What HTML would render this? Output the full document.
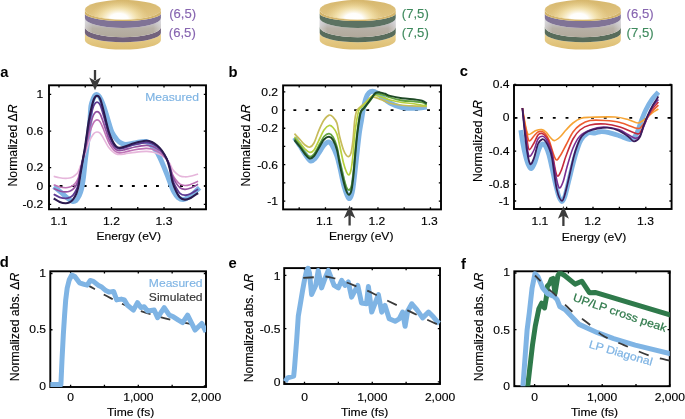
<!DOCTYPE html><html><head><meta charset="utf-8"><style>html,body{margin:0;padding:0;background:#fff;width:685px;height:419px;overflow:hidden}</style></head><body><svg width="685" height="419" viewBox="0 0 685 419" style="display:block;will-change:transform" font-family='"Liberation Sans", sans-serif'>
<rect width="685" height="419" fill="#fff"/>
<defs>
<clipPath id="ca"><rect x="49" y="85.3" width="157" height="124.00000000000001"/></clipPath>
<clipPath id="cb"><rect x="283.1" y="85.4" width="157.89999999999998" height="124.0"/></clipPath>
<clipPath id="cc"><rect x="514" y="85.1" width="157.60000000000002" height="123.9"/></clipPath>
<clipPath id="cd"><rect x="50.3" y="271.3" width="155.7" height="115.69999999999999"/></clipPath>
<clipPath id="ce"><rect x="284.2" y="268.1" width="155.8" height="115.89999999999998"/></clipPath>
<clipPath id="cf"><rect x="514.3" y="271.3" width="155.5" height="114.89999999999998"/></clipPath>
</defs>
<text transform="translate(0.30,76.50) scale(1.02,1)" font-size="14.5" text-anchor="start" fill="#000" stroke="#000" stroke-width="0.0" font-weight="bold" >a</text>
<text transform="translate(228.60,76.50) scale(1.02,1)" font-size="14.5" text-anchor="start" fill="#000" stroke="#000" stroke-width="0.0" font-weight="bold" >b</text>
<text transform="translate(459.80,75.80) scale(1.02,1)" font-size="14.5" text-anchor="start" fill="#000" stroke="#000" stroke-width="0.0" font-weight="bold" >c</text>
<text transform="translate(-0.20,267.00) scale(1.02,1)" font-size="14.5" text-anchor="start" fill="#000" stroke="#000" stroke-width="0.0" font-weight="bold" >d</text>
<text transform="translate(228.50,268.00) scale(1.02,1)" font-size="14.5" text-anchor="start" fill="#000" stroke="#000" stroke-width="0.0" font-weight="bold" >e</text>
<text transform="translate(461.10,268.60) scale(1.02,1)" font-size="14.5" text-anchor="start" fill="#000" stroke="#000" stroke-width="0.0" font-weight="bold" >f</text>
<path d="M59.00,209.3 v-2.2 M59.00,85.3 v2.2 M85.25,209.3 v-2.2 M85.25,85.3 v2.2 M111.50,209.3 v-2.2 M111.50,85.3 v2.2 M137.75,209.3 v-2.2 M137.75,85.3 v2.2 M164.00,209.3 v-2.2 M164.00,85.3 v2.2 M190.25,209.3 v-2.2 M190.25,85.3 v2.2 M49,204.32 h2.2 M206,204.32 h-2.2 M49,186.00 h2.2 M206,186.00 h-2.2 M49,167.68 h2.2 M206,167.68 h-2.2 M49,131.04 h2.2 M206,131.04 h-2.2 M49,94.40 h2.2 M206,94.40 h-2.2 " stroke="#000" stroke-width="1.3" fill="none"/>
<rect x="49" y="85.3" width="157" height="124.00000000000001" fill="none" stroke="#000" stroke-width="1.9"/>
<text transform="translate(43.30,98.20) scale(1.1,1)" font-size="11" text-anchor="end" fill="#000" stroke="#000" stroke-width="0.14" font-weight="normal" >1</text>
<text transform="translate(43.30,134.84) scale(1.1,1)" font-size="11" text-anchor="end" fill="#000" stroke="#000" stroke-width="0.14" font-weight="normal" >0.6</text>
<text transform="translate(43.30,171.48) scale(1.1,1)" font-size="11" text-anchor="end" fill="#000" stroke="#000" stroke-width="0.14" font-weight="normal" >0.2</text>
<text transform="translate(43.30,189.80) scale(1.1,1)" font-size="11" text-anchor="end" fill="#000" stroke="#000" stroke-width="0.14" font-weight="normal" >0</text>
<text transform="translate(43.30,208.12) scale(1.1,1)" font-size="11" text-anchor="end" fill="#000" stroke="#000" stroke-width="0.14" font-weight="normal" >-0.2</text>
<text transform="translate(59.00,224.70) scale(1.1,1)" font-size="11" text-anchor="middle" fill="#000" stroke="#000" stroke-width="0.14" font-weight="normal" >1.1</text>
<text transform="translate(111.50,224.70) scale(1.1,1)" font-size="11" text-anchor="middle" fill="#000" stroke="#000" stroke-width="0.14" font-weight="normal" >1.2</text>
<text transform="translate(164.00,224.70) scale(1.1,1)" font-size="11" text-anchor="middle" fill="#000" stroke="#000" stroke-width="0.14" font-weight="normal" >1.3</text>
<text transform="translate(128.70,240.20) scale(1.1,1)" font-size="11" text-anchor="middle" fill="#000" stroke="#000" stroke-width="0.14" font-weight="normal" >Energy (eV)</text>
<text transform="translate(16.70,145.45) rotate(-90) scale(1.0,1)" font-size="12.2" text-anchor="middle" fill="#000" stroke="#000" stroke-width="0.14" font-weight="normal" >Normalized Δ<tspan font-style="italic">R</tspan></text>
<path d="M299.20,209.4 v-2.2 M299.20,85.4 v2.2 M325.45,209.4 v-2.2 M325.45,85.4 v2.2 M351.70,209.4 v-2.2 M351.70,85.4 v2.2 M377.95,209.4 v-2.2 M377.95,85.4 v2.2 M404.20,209.4 v-2.2 M404.20,85.4 v2.2 M430.45,209.4 v-2.2 M430.45,85.4 v2.2 M283.1,91.84 h2.2 M441,91.84 h-2.2 M283.1,110.05 h2.2 M441,110.05 h-2.2 M283.1,128.26 h2.2 M441,128.26 h-2.2 M283.1,146.47 h2.2 M441,146.47 h-2.2 M283.1,164.68 h2.2 M441,164.68 h-2.2 M283.1,182.89 h2.2 M441,182.89 h-2.2 M283.1,201.10 h2.2 M441,201.10 h-2.2 " stroke="#000" stroke-width="1.3" fill="none"/>
<rect x="283.1" y="85.4" width="157.89999999999998" height="124.0" fill="none" stroke="#000" stroke-width="1.9"/>
<text transform="translate(278.00,96.04) scale(1.1,1)" font-size="11" text-anchor="end" fill="#000" stroke="#000" stroke-width="0.14" font-weight="normal" >0.2</text>
<text transform="translate(278.00,114.25) scale(1.1,1)" font-size="11" text-anchor="end" fill="#000" stroke="#000" stroke-width="0.14" font-weight="normal" >0</text>
<text transform="translate(278.00,132.46) scale(1.1,1)" font-size="11" text-anchor="end" fill="#000" stroke="#000" stroke-width="0.14" font-weight="normal" >-0.2</text>
<text transform="translate(278.00,168.88) scale(1.1,1)" font-size="11" text-anchor="end" fill="#000" stroke="#000" stroke-width="0.14" font-weight="normal" >-0.6</text>
<text transform="translate(278.00,205.30) scale(1.1,1)" font-size="11" text-anchor="end" fill="#000" stroke="#000" stroke-width="0.14" font-weight="normal" >-1</text>
<text transform="translate(324.45,225.10) scale(1.1,1)" font-size="11" text-anchor="middle" fill="#000" stroke="#000" stroke-width="0.14" font-weight="normal" >1.1</text>
<text transform="translate(376.95,225.10) scale(1.1,1)" font-size="11" text-anchor="middle" fill="#000" stroke="#000" stroke-width="0.14" font-weight="normal" >1.2</text>
<text transform="translate(429.45,225.10) scale(1.1,1)" font-size="11" text-anchor="middle" fill="#000" stroke="#000" stroke-width="0.14" font-weight="normal" >1.3</text>
<text transform="translate(361.20,240.40) scale(1.1,1)" font-size="11" text-anchor="middle" fill="#000" stroke="#000" stroke-width="0.14" font-weight="normal" >Energy (eV)</text>
<text transform="translate(249.90,145.45) rotate(-90) scale(1.0,1)" font-size="12.2" text-anchor="middle" fill="#000" stroke="#000" stroke-width="0.14" font-weight="normal" >Normalized Δ<tspan font-style="italic">R</tspan></text>
<path d="M513.80,209 v-2.2 M513.80,85.1 v2.2 M540.20,209 v-2.2 M540.20,85.1 v2.2 M566.60,209 v-2.2 M566.60,85.1 v2.2 M593.00,209 v-2.2 M593.00,85.1 v2.2 M619.40,209 v-2.2 M619.40,85.1 v2.2 M645.80,209 v-2.2 M645.80,85.1 v2.2 M514,84.52 h2.2 M671.6,84.52 h-2.2 M514,117.80 h2.2 M671.6,117.80 h-2.2 M514,151.08 h2.2 M671.6,151.08 h-2.2 M514,184.36 h2.2 M671.6,184.36 h-2.2 M514,201.00 h2.2 M671.6,201.00 h-2.2 " stroke="#000" stroke-width="1.3" fill="none"/>
<rect x="514" y="85.1" width="157.60000000000002" height="123.9" fill="none" stroke="#000" stroke-width="1.9"/>
<text transform="translate(509.50,88.12) scale(1.1,1)" font-size="11" text-anchor="end" fill="#000" stroke="#000" stroke-width="0.14" font-weight="normal" >0.4</text>
<text transform="translate(509.50,121.40) scale(1.1,1)" font-size="11" text-anchor="end" fill="#000" stroke="#000" stroke-width="0.14" font-weight="normal" >0</text>
<text transform="translate(509.50,154.68) scale(1.1,1)" font-size="11" text-anchor="end" fill="#000" stroke="#000" stroke-width="0.14" font-weight="normal" >-0.4</text>
<text transform="translate(509.50,187.96) scale(1.1,1)" font-size="11" text-anchor="end" fill="#000" stroke="#000" stroke-width="0.14" font-weight="normal" >-0.8</text>
<text transform="translate(509.50,204.60) scale(1.1,1)" font-size="11" text-anchor="end" fill="#000" stroke="#000" stroke-width="0.14" font-weight="normal" >-1</text>
<text transform="translate(539.90,225.10) scale(1.1,1)" font-size="11" text-anchor="middle" fill="#000" stroke="#000" stroke-width="0.14" font-weight="normal" >1.1</text>
<text transform="translate(592.70,225.10) scale(1.1,1)" font-size="11" text-anchor="middle" fill="#000" stroke="#000" stroke-width="0.14" font-weight="normal" >1.2</text>
<text transform="translate(645.50,225.10) scale(1.1,1)" font-size="11" text-anchor="middle" fill="#000" stroke="#000" stroke-width="0.14" font-weight="normal" >1.3</text>
<text transform="translate(594.00,240.60) scale(1.1,1)" font-size="11" text-anchor="middle" fill="#000" stroke="#000" stroke-width="0.14" font-weight="normal" >Energy (eV)</text>
<text transform="translate(482.00,141.10) rotate(-90) scale(1.0,1)" font-size="12.2" text-anchor="middle" fill="#000" stroke="#000" stroke-width="0.14" font-weight="normal" >Normalized Δ<tspan font-style="italic">R</tspan></text>
<path d="M70.60,387 v-2.2 M70.60,271.3 v2.2 M104.45,387 v-2.2 M104.45,271.3 v2.2 M138.30,387 v-2.2 M138.30,271.3 v2.2 M172.15,387 v-2.2 M172.15,271.3 v2.2 M206.00,387 v-2.2 M206.00,271.3 v2.2 M50.3,386.00 h2.2 M206,386.00 h-2.2 M50.3,329.75 h2.2 M206,329.75 h-2.2 M50.3,273.50 h2.2 M206,273.50 h-2.2 " stroke="#000" stroke-width="1.3" fill="none"/>
<rect x="50.3" y="271.3" width="155.7" height="115.69999999999999" fill="none" stroke="#000" stroke-width="1.9"/>
<text transform="translate(46.00,276.50) scale(1.1,1)" font-size="11" text-anchor="end" fill="#000" stroke="#000" stroke-width="0.14" font-weight="normal" >1</text>
<text transform="translate(46.00,333.35) scale(1.1,1)" font-size="11" text-anchor="end" fill="#000" stroke="#000" stroke-width="0.14" font-weight="normal" >0.5</text>
<text transform="translate(46.00,389.60) scale(1.1,1)" font-size="11" text-anchor="end" fill="#000" stroke="#000" stroke-width="0.14" font-weight="normal" >0</text>
<text transform="translate(70.60,400.80) scale(1.1,1)" font-size="11" text-anchor="middle" fill="#000" stroke="#000" stroke-width="0.14" font-weight="normal" >0</text>
<text transform="translate(138.30,400.80) scale(1.1,1)" font-size="11" text-anchor="middle" fill="#000" stroke="#000" stroke-width="0.14" font-weight="normal" >1,000</text>
<text transform="translate(206.00,400.80) scale(1.1,1)" font-size="11" text-anchor="middle" fill="#000" stroke="#000" stroke-width="0.14" font-weight="normal" >2,000</text>
<text transform="translate(130.65,416.00) scale(1.1,1)" font-size="11" text-anchor="middle" fill="#000" stroke="#000" stroke-width="0.14" font-weight="normal" >Time (fs)</text>
<text transform="translate(19.10,326.95) rotate(-90) scale(1.0,1)" font-size="12.2" text-anchor="middle" fill="#000" stroke="#000" stroke-width="0.14" font-weight="normal" >Normalized abs. Δ<tspan font-style="italic">R</tspan></text>
<path d="M304.50,384 v-2.2 M304.50,268.1 v2.2 M338.38,384 v-2.2 M338.38,268.1 v2.2 M372.25,384 v-2.2 M372.25,268.1 v2.2 M406.12,384 v-2.2 M406.12,268.1 v2.2 M440.00,384 v-2.2 M440.00,268.1 v2.2 M284.2,381.80 h2.2 M440,381.80 h-2.2 M284.2,328.60 h2.2 M440,328.60 h-2.2 M284.2,275.40 h2.2 M440,275.40 h-2.2 " stroke="#000" stroke-width="1.3" fill="none"/>
<rect x="284.2" y="268.1" width="155.8" height="115.89999999999998" fill="none" stroke="#000" stroke-width="1.9"/>
<text transform="translate(280.50,279.60) scale(1.1,1)" font-size="11" text-anchor="end" fill="#000" stroke="#000" stroke-width="0.14" font-weight="normal" >1</text>
<text transform="translate(280.50,332.80) scale(1.1,1)" font-size="11" text-anchor="end" fill="#000" stroke="#000" stroke-width="0.14" font-weight="normal" >-0.5</text>
<text transform="translate(280.50,386.00) scale(1.1,1)" font-size="11" text-anchor="end" fill="#000" stroke="#000" stroke-width="0.14" font-weight="normal" >0</text>
<text transform="translate(304.50,400.80) scale(1.1,1)" font-size="11" text-anchor="middle" fill="#000" stroke="#000" stroke-width="0.14" font-weight="normal" >0</text>
<text transform="translate(372.25,400.80) scale(1.1,1)" font-size="11" text-anchor="middle" fill="#000" stroke="#000" stroke-width="0.14" font-weight="normal" >1,000</text>
<text transform="translate(440.00,400.80) scale(1.1,1)" font-size="11" text-anchor="middle" fill="#000" stroke="#000" stroke-width="0.14" font-weight="normal" >2,000</text>
<text transform="translate(364.60,416.00) scale(1.1,1)" font-size="11" text-anchor="middle" fill="#000" stroke="#000" stroke-width="0.14" font-weight="normal" >Time (fs)</text>
<text transform="translate(253.10,328.00) rotate(-90) scale(1.0,1)" font-size="12.2" text-anchor="middle" fill="#000" stroke="#000" stroke-width="0.14" font-weight="normal" >Normalized abs. Δ<tspan font-style="italic">R</tspan></text>
<path d="M534.60,386.2 v-2.2 M534.60,271.3 v2.2 M568.40,386.2 v-2.2 M568.40,271.3 v2.2 M602.20,386.2 v-2.2 M602.20,271.3 v2.2 M636.00,386.2 v-2.2 M636.00,271.3 v2.2 M669.80,386.2 v-2.2 M669.80,271.3 v2.2 M514.3,386.20 h2.2 M669.8,386.20 h-2.2 M514.3,329.60 h2.2 M669.8,329.60 h-2.2 M514.3,273.00 h2.2 M669.8,273.00 h-2.2 " stroke="#000" stroke-width="1.3" fill="none"/>
<rect x="514.3" y="271.3" width="155.5" height="114.89999999999998" fill="none" stroke="#000" stroke-width="1.9"/>
<text transform="translate(510.00,276.00) scale(1.1,1)" font-size="11" text-anchor="end" fill="#000" stroke="#000" stroke-width="0.14" font-weight="normal" >1</text>
<text transform="translate(510.00,333.80) scale(1.1,1)" font-size="11" text-anchor="end" fill="#000" stroke="#000" stroke-width="0.14" font-weight="normal" >0.5</text>
<text transform="translate(510.00,390.40) scale(1.1,1)" font-size="11" text-anchor="end" fill="#000" stroke="#000" stroke-width="0.14" font-weight="normal" >0</text>
<text transform="translate(534.60,400.80) scale(1.1,1)" font-size="11" text-anchor="middle" fill="#000" stroke="#000" stroke-width="0.14" font-weight="normal" >0</text>
<text transform="translate(602.20,400.80) scale(1.1,1)" font-size="11" text-anchor="middle" fill="#000" stroke="#000" stroke-width="0.14" font-weight="normal" >1,000</text>
<text transform="translate(669.80,400.80) scale(1.1,1)" font-size="11" text-anchor="middle" fill="#000" stroke="#000" stroke-width="0.14" font-weight="normal" >2,000</text>
<text transform="translate(594.55,416.00) scale(1.1,1)" font-size="11" text-anchor="middle" fill="#000" stroke="#000" stroke-width="0.14" font-weight="normal" >Time (fs)</text>
<text transform="translate(483.20,326.95) rotate(-90) scale(1.0,1)" font-size="12.2" text-anchor="middle" fill="#000" stroke="#000" stroke-width="0.14" font-weight="normal" >Normalized abs. Δ<tspan font-style="italic">R</tspan></text>
<defs><radialGradient id="hl1" cx="118.9" cy="19" r="30" gradientUnits="userSpaceOnUse" gradientTransform="translate(118.9,19) scale(1,0.62) translate(-118.9,-19)"><stop offset="0" stop-color="#ffffff" stop-opacity="1"/><stop offset="0.3" stop-color="#ffffff" stop-opacity="0.97"/><stop offset="0.62" stop-color="#fff4c8" stop-opacity="0.55"/><stop offset="1" stop-color="#f0dca0" stop-opacity="0"/></radialGradient><linearGradient id="fb1" x1="0" y1="0" x2="0" y2="20" gradientUnits="userSpaceOnUse"><stop offset="0" stop-color="#d7b86e"/><stop offset="1" stop-color="#e3c887"/></linearGradient><linearGradient id="gy1" x1="0" y1="18" x2="0" y2="37" gradientUnits="userSpaceOnUse"><stop offset="0" stop-color="#cdccd2"/><stop offset="0.3" stop-color="#c2bfc0"/><stop offset="0.55" stop-color="#b7b0a6"/><stop offset="1" stop-color="#b1a99b"/></linearGradient><linearGradient id="gx1" x1="84.9" y1="0" x2="160.9" y2="0" gradientUnits="userSpaceOnUse"><stop offset="0" stop-color="#e8e8ee" stop-opacity="0.5"/><stop offset="0.1" stop-color="#e8e8ee" stop-opacity="0.0"/><stop offset="0.9" stop-color="#e8e8ee" stop-opacity="0.0"/><stop offset="1" stop-color="#e8e8ee" stop-opacity="0.5"/></linearGradient><linearGradient id="gb1" x1="0" y1="34" x2="0" y2="50" gradientUnits="userSpaceOnUse"><stop offset="0" stop-color="#e9d08f"/><stop offset="1" stop-color="#dcbc70"/></linearGradient></defs>
<path d="M84.90,33.00 A38,9.2 0 0 0 160.90,33.00 L160.90,40.20 A38,9.4 0 0 1 84.90,40.20 Z" fill="url(#gb1)"/>
<path d="M84.90,27.00 A38,10.2 0 0 0 160.90,27.00 L160.90,33.00 A38,9.2 0 0 1 84.90,33.00 Z" fill="#72627c"/>
<path d="M84.90,18.00 A38,9.9 0 0 0 160.90,18.00 L160.90,27.00 A38,10.2 0 0 1 84.90,27.00 Z" fill="url(#gy1)"/>
<path d="M84.90,18.00 A38,9.9 0 0 0 160.90,18.00 L160.90,27.00 A38,10.2 0 0 1 84.90,27.00 Z" fill="url(#gx1)"/>
<path d="M84.90,13.50 A38,7.5 0 0 0 160.90,13.50 L160.90,18.00 A38,9.9 0 0 1 84.90,18.00 Z" fill="#807396"/>
<path d="M84.90,9.80 A38,9.9 0 0 0 160.90,9.80 L160.90,13.50 A38,7.5 0 0 1 84.90,13.50 Z" fill="#d3b46a"/>
<ellipse cx="122.9" cy="9.8" rx="38" ry="9.9" fill="url(#fb1)"/>
<ellipse cx="122.9" cy="9.8" rx="37.7" ry="9.6" fill="url(#hl1)"/>
<defs><radialGradient id="hl2" cx="353.7" cy="19" r="30" gradientUnits="userSpaceOnUse" gradientTransform="translate(353.7,19) scale(1,0.62) translate(-353.7,-19)"><stop offset="0" stop-color="#ffffff" stop-opacity="1"/><stop offset="0.3" stop-color="#ffffff" stop-opacity="0.97"/><stop offset="0.62" stop-color="#fff4c8" stop-opacity="0.55"/><stop offset="1" stop-color="#f0dca0" stop-opacity="0"/></radialGradient><linearGradient id="fb2" x1="0" y1="0" x2="0" y2="20" gradientUnits="userSpaceOnUse"><stop offset="0" stop-color="#d7b86e"/><stop offset="1" stop-color="#e3c887"/></linearGradient><linearGradient id="gy2" x1="0" y1="18" x2="0" y2="37" gradientUnits="userSpaceOnUse"><stop offset="0" stop-color="#cdccd2"/><stop offset="0.3" stop-color="#c2bfc0"/><stop offset="0.55" stop-color="#b7b0a6"/><stop offset="1" stop-color="#b1a99b"/></linearGradient><linearGradient id="gx2" x1="319.7" y1="0" x2="395.7" y2="0" gradientUnits="userSpaceOnUse"><stop offset="0" stop-color="#e8e8ee" stop-opacity="0.5"/><stop offset="0.1" stop-color="#e8e8ee" stop-opacity="0.0"/><stop offset="0.9" stop-color="#e8e8ee" stop-opacity="0.0"/><stop offset="1" stop-color="#e8e8ee" stop-opacity="0.5"/></linearGradient><linearGradient id="gb2" x1="0" y1="34" x2="0" y2="50" gradientUnits="userSpaceOnUse"><stop offset="0" stop-color="#e9d08f"/><stop offset="1" stop-color="#dcbc70"/></linearGradient></defs>
<path d="M319.70,33.00 A38,9.2 0 0 0 395.70,33.00 L395.70,40.20 A38,9.4 0 0 1 319.70,40.20 Z" fill="url(#gb2)"/>
<path d="M319.70,27.00 A38,10.2 0 0 0 395.70,27.00 L395.70,33.00 A38,9.2 0 0 1 319.70,33.00 Z" fill="#586c5b"/>
<path d="M319.70,18.00 A38,9.9 0 0 0 395.70,18.00 L395.70,27.00 A38,10.2 0 0 1 319.70,27.00 Z" fill="url(#gy2)"/>
<path d="M319.70,18.00 A38,9.9 0 0 0 395.70,18.00 L395.70,27.00 A38,10.2 0 0 1 319.70,27.00 Z" fill="url(#gx2)"/>
<path d="M319.70,13.50 A38,7.5 0 0 0 395.70,13.50 L395.70,18.00 A38,9.9 0 0 1 319.70,18.00 Z" fill="#5c7262"/>
<path d="M319.70,9.80 A38,9.9 0 0 0 395.70,9.80 L395.70,13.50 A38,7.5 0 0 1 319.70,13.50 Z" fill="#d3b46a"/>
<ellipse cx="357.7" cy="9.8" rx="38" ry="9.9" fill="url(#fb2)"/>
<ellipse cx="357.7" cy="9.8" rx="37.7" ry="9.6" fill="url(#hl2)"/>
<defs><radialGradient id="hl3" cx="578.8" cy="19" r="30" gradientUnits="userSpaceOnUse" gradientTransform="translate(578.8,19) scale(1,0.62) translate(-578.8,-19)"><stop offset="0" stop-color="#ffffff" stop-opacity="1"/><stop offset="0.3" stop-color="#ffffff" stop-opacity="0.97"/><stop offset="0.62" stop-color="#fff4c8" stop-opacity="0.55"/><stop offset="1" stop-color="#f0dca0" stop-opacity="0"/></radialGradient><linearGradient id="fb3" x1="0" y1="0" x2="0" y2="20" gradientUnits="userSpaceOnUse"><stop offset="0" stop-color="#d7b86e"/><stop offset="1" stop-color="#e3c887"/></linearGradient><linearGradient id="gy3" x1="0" y1="18" x2="0" y2="37" gradientUnits="userSpaceOnUse"><stop offset="0" stop-color="#cdccd2"/><stop offset="0.3" stop-color="#c2bfc0"/><stop offset="0.55" stop-color="#b7b0a6"/><stop offset="1" stop-color="#b1a99b"/></linearGradient><linearGradient id="gx3" x1="544.8" y1="0" x2="620.8" y2="0" gradientUnits="userSpaceOnUse"><stop offset="0" stop-color="#e8e8ee" stop-opacity="0.5"/><stop offset="0.1" stop-color="#e8e8ee" stop-opacity="0.0"/><stop offset="0.9" stop-color="#e8e8ee" stop-opacity="0.0"/><stop offset="1" stop-color="#e8e8ee" stop-opacity="0.5"/></linearGradient><linearGradient id="gb3" x1="0" y1="34" x2="0" y2="50" gradientUnits="userSpaceOnUse"><stop offset="0" stop-color="#e9d08f"/><stop offset="1" stop-color="#dcbc70"/></linearGradient></defs>
<path d="M544.80,33.00 A38,9.2 0 0 0 620.80,33.00 L620.80,40.20 A38,9.4 0 0 1 544.80,40.20 Z" fill="url(#gb3)"/>
<path d="M544.80,27.00 A38,10.2 0 0 0 620.80,27.00 L620.80,33.00 A38,9.2 0 0 1 544.80,33.00 Z" fill="#586c5b"/>
<path d="M544.80,18.00 A38,9.9 0 0 0 620.80,18.00 L620.80,27.00 A38,10.2 0 0 1 544.80,27.00 Z" fill="url(#gy3)"/>
<path d="M544.80,18.00 A38,9.9 0 0 0 620.80,18.00 L620.80,27.00 A38,10.2 0 0 1 544.80,27.00 Z" fill="url(#gx3)"/>
<path d="M544.80,13.50 A38,7.5 0 0 0 620.80,13.50 L620.80,18.00 A38,9.9 0 0 1 544.80,18.00 Z" fill="#807396"/>
<path d="M544.80,9.80 A38,9.9 0 0 0 620.80,9.80 L620.80,13.50 A38,7.5 0 0 1 544.80,13.50 Z" fill="#d3b46a"/>
<ellipse cx="582.8" cy="9.8" rx="38" ry="9.9" fill="url(#fb3)"/>
<ellipse cx="582.8" cy="9.8" rx="37.7" ry="9.6" fill="url(#hl3)"/>
<text transform="translate(169.20,17.60) scale(1.05,1)" font-size="12.5" text-anchor="start" fill="#8765b0" stroke="#8765b0" stroke-width="0.14" font-weight="normal" >(6,5)</text>
<text transform="translate(168.80,37.30) scale(1.05,1)" font-size="12.5" text-anchor="start" fill="#8765b0" stroke="#8765b0" stroke-width="0.14" font-weight="normal" >(6,5)</text>
<text transform="translate(401.80,17.60) scale(1.05,1)" font-size="12.5" text-anchor="start" fill="#3f8a5e" stroke="#3f8a5e" stroke-width="0.14" font-weight="normal" >(7,5)</text>
<text transform="translate(401.80,37.30) scale(1.05,1)" font-size="12.5" text-anchor="start" fill="#3f8a5e" stroke="#3f8a5e" stroke-width="0.14" font-weight="normal" >(7,5)</text>
<text transform="translate(626.60,17.60) scale(1.05,1)" font-size="12.5" text-anchor="start" fill="#8765b0" stroke="#8765b0" stroke-width="0.14" font-weight="normal" >(6,5)</text>
<text transform="translate(626.60,37.30) scale(1.05,1)" font-size="12.5" text-anchor="start" fill="#3f8a5e" stroke="#3f8a5e" stroke-width="0.14" font-weight="normal" >(7,5)</text>
<g clip-path="url(#ca)" fill="none" stroke-linejoin="round" stroke-linecap="butt">
<path d="M49,186.00 H206" stroke="#000" stroke-width="1.8" stroke-dasharray="2.9 9.15" stroke-dashoffset="1.45"/>
<path d="M54.00,186.50 C55.23,187.53 59.05,190.70 61.40,192.70 C63.75,194.70 66.30,197.07 68.10,198.50 C69.90,199.93 70.88,200.97 72.20,201.30 C73.52,201.63 74.87,201.38 76.00,200.50 C77.13,199.62 78.10,197.83 79.00,196.00 C79.90,194.17 80.65,192.70 81.40,189.50 C82.15,186.30 82.88,181.43 83.50,176.80 C84.12,172.17 84.55,166.43 85.10,161.70 C85.65,156.97 86.28,152.52 86.80,148.40 C87.32,144.28 87.68,141.57 88.20,137.00 C88.72,132.43 89.43,126.17 89.90,121.00 C90.37,115.83 90.40,109.83 91.00,106.00 C91.60,102.17 92.72,99.87 93.50,98.00 C94.28,96.13 94.87,95.22 95.70,94.80 C96.53,94.38 97.62,94.72 98.50,95.50 C99.38,96.28 100.08,97.58 101.00,99.50 C101.92,101.42 102.83,103.58 104.00,107.00 C105.17,110.42 106.67,115.77 108.00,120.00 C109.33,124.23 110.47,129.07 112.00,132.40 C113.53,135.73 115.70,138.23 117.20,140.00 C118.70,141.77 119.55,142.25 121.00,143.00 C122.45,143.75 123.57,144.50 125.90,144.50 C128.23,144.50 131.65,143.50 135.00,143.00 C138.35,142.50 143.00,140.83 146.00,141.50 C149.00,142.17 151.03,145.00 153.00,147.00 C154.97,149.00 156.12,150.52 157.80,153.50 C159.48,156.48 161.42,161.02 163.10,164.90 C164.78,168.78 166.60,173.45 167.90,176.80 C169.20,180.15 169.88,182.47 170.90,185.00 C171.92,187.53 172.82,189.92 174.00,192.00 C175.18,194.08 176.45,196.25 178.00,197.50 C179.55,198.75 181.30,199.67 183.30,199.50 C185.30,199.33 187.88,197.92 190.00,196.50 C192.12,195.08 194.40,192.45 196.00,191.00 C197.60,189.55 199.00,188.33 199.60,187.80" stroke="#7fb4e4" stroke-width="5.0"/>
<path d="M53.70,176.34 C54.70,176.59 57.72,177.47 59.70,177.81 C61.68,178.15 63.93,178.35 65.60,178.37 C67.27,178.39 68.45,178.21 69.70,177.94 C70.95,177.67 71.98,177.36 73.10,176.73 C74.22,176.10 75.52,175.09 76.40,174.18 C77.28,173.27 77.70,172.73 78.40,171.29 C79.10,169.84 79.87,167.43 80.60,165.50 C81.33,163.57 82.10,161.51 82.80,159.71 C83.50,157.91 84.17,156.43 84.80,154.70 C85.43,152.97 85.95,151.28 86.60,149.34 C87.25,147.40 87.92,145.06 88.70,143.08 C89.48,141.10 90.42,139.08 91.30,137.46 C92.18,135.84 93.07,134.28 94.00,133.36 C94.93,132.44 95.90,131.97 96.90,131.93 C97.90,131.90 98.97,132.18 100.00,133.14 C101.03,134.10 102.10,136.06 103.10,137.68 C104.10,139.30 105.02,141.18 106.00,142.86 C106.98,144.55 107.92,146.35 109.00,147.79 C110.08,149.23 111.38,150.52 112.50,151.50 C113.62,152.48 114.55,153.16 115.70,153.66 C116.85,154.16 117.85,154.45 119.40,154.48 C120.95,154.52 122.40,154.23 125.00,153.88 C127.60,153.52 131.50,152.78 135.00,152.37 C138.50,151.96 143.17,151.49 146.00,151.42 C148.83,151.34 150.13,151.60 152.00,151.93 C153.87,152.27 155.55,152.83 157.20,153.45 C158.85,154.06 160.32,154.64 161.90,155.61 C163.48,156.57 165.40,157.95 166.70,159.23 C168.00,160.52 168.73,161.68 169.70,163.34 C170.67,165.00 171.45,167.59 172.50,169.21 C173.55,170.84 174.75,171.99 176.00,173.10 C177.25,174.22 178.53,175.29 180.00,175.91 C181.47,176.53 183.13,176.76 184.80,176.82 C186.47,176.87 187.78,176.73 190.00,176.26 C192.22,175.78 196.75,174.35 198.10,173.97" stroke="#e6b6db" stroke-width="1.6"/>
<path d="M53.70,184.77 C54.70,185.12 57.72,186.42 59.70,186.91 C61.68,187.41 63.93,187.70 65.60,187.73 C67.27,187.76 68.45,187.50 69.70,187.10 C70.95,186.70 71.98,186.25 73.10,185.33 C74.22,184.42 75.52,182.94 76.40,181.61 C77.28,180.29 77.70,179.50 78.40,177.38 C79.10,175.27 79.87,171.75 80.60,168.93 C81.33,166.11 82.10,163.10 82.80,160.47 C83.50,157.84 84.17,155.68 84.80,153.15 C85.43,150.63 85.95,148.16 86.60,145.33 C87.25,142.50 87.92,139.07 88.70,136.18 C89.48,133.29 90.42,130.34 91.30,127.98 C92.18,125.61 93.07,123.33 94.00,121.98 C94.93,120.63 95.90,119.95 96.90,119.90 C97.90,119.85 98.97,120.27 100.00,121.67 C101.03,123.06 102.10,125.92 103.10,128.29 C104.10,130.66 105.02,133.40 106.00,135.86 C106.98,138.32 107.92,140.95 109.00,143.06 C110.08,145.16 111.38,147.05 112.50,148.48 C113.62,149.91 114.55,150.91 115.70,151.64 C116.85,152.36 117.85,152.78 119.40,152.84 C120.95,152.89 122.40,152.47 125.00,151.95 C127.60,151.44 131.50,150.34 135.00,149.74 C138.50,149.15 143.17,148.46 146.00,148.36 C148.83,148.25 150.13,148.62 152.00,149.11 C153.87,149.61 155.55,150.43 157.20,151.32 C158.85,152.22 160.32,153.07 161.90,154.48 C163.48,155.89 165.40,157.90 166.70,159.78 C168.00,161.66 168.73,163.34 169.70,165.77 C170.67,168.20 171.45,171.98 172.50,174.35 C173.55,176.73 174.75,178.40 176.00,180.03 C177.25,181.66 178.53,183.23 180.00,184.13 C181.47,185.04 183.13,185.38 184.80,185.46 C186.47,185.54 187.78,185.33 190.00,184.64 C192.22,183.95 196.75,181.85 198.10,181.29" stroke="#bf73b6" stroke-width="1.6"/>
<path d="M53.70,188.46 C54.70,188.89 57.72,190.42 59.70,191.00 C61.68,191.59 63.93,191.94 65.60,191.97 C67.27,192.01 68.45,191.70 69.70,191.23 C70.95,190.75 71.98,190.22 73.10,189.13 C74.22,188.05 75.52,186.30 76.40,184.73 C77.28,183.16 77.70,182.22 78.40,179.72 C79.10,177.22 79.87,173.05 80.60,169.71 C81.33,166.38 82.10,162.82 82.80,159.70 C83.50,156.59 84.17,154.03 84.80,151.04 C85.43,148.05 85.95,145.12 86.60,141.77 C87.25,138.43 87.92,134.37 88.70,130.94 C89.48,127.52 90.42,124.03 91.30,121.23 C92.18,118.43 93.07,115.73 94.00,114.14 C94.93,112.54 95.90,111.73 96.90,111.67 C97.90,111.61 98.97,112.11 100.00,113.76 C101.03,115.42 102.10,118.80 103.10,121.61 C104.10,124.41 105.02,127.66 106.00,130.57 C106.98,133.48 107.92,136.60 109.00,139.09 C110.08,141.58 111.38,143.82 112.50,145.51 C113.62,147.20 114.55,148.39 115.70,149.24 C116.85,150.10 117.85,150.60 119.40,150.66 C120.95,150.73 122.40,150.23 125.00,149.62 C127.60,149.01 131.50,147.71 135.00,147.00 C138.50,146.29 143.17,145.48 146.00,145.36 C148.83,145.24 150.13,145.67 152.00,146.26 C153.87,146.84 155.55,147.81 157.20,148.87 C158.85,149.93 160.32,150.94 161.90,152.61 C163.48,154.27 165.40,156.65 166.70,158.88 C168.00,161.11 168.73,163.10 169.70,165.98 C170.67,168.85 171.45,173.32 172.50,176.14 C173.55,178.95 174.75,180.93 176.00,182.86 C177.25,184.79 178.53,186.64 180.00,187.72 C181.47,188.79 183.13,189.18 184.80,189.28 C186.47,189.38 187.78,189.13 190.00,188.31 C192.22,187.49 196.75,185.01 198.10,184.35" stroke="#93519f" stroke-width="1.7"/>
<path d="M53.70,194.23 C54.70,194.74 57.72,196.57 59.70,197.28 C61.68,197.98 63.93,198.40 65.60,198.44 C67.27,198.49 68.45,198.11 69.70,197.54 C70.95,196.98 71.98,196.34 73.10,195.04 C74.22,193.74 75.52,191.63 76.40,189.75 C77.28,187.87 77.70,186.75 78.40,183.75 C79.10,180.74 79.87,175.74 80.60,171.74 C81.33,167.74 82.10,163.47 82.80,159.73 C83.50,156.00 84.17,152.92 84.80,149.34 C85.43,145.76 85.95,142.25 86.60,138.23 C87.25,134.21 87.92,129.34 88.70,125.24 C89.48,121.13 90.42,116.95 91.30,113.59 C92.18,110.23 93.07,106.99 94.00,105.08 C94.93,103.17 95.90,102.20 96.90,102.12 C97.90,102.05 98.97,102.64 100.00,104.63 C101.03,106.62 102.10,110.68 103.10,114.04 C104.10,117.40 105.02,121.30 106.00,124.79 C106.98,128.28 107.92,132.02 109.00,135.00 C110.08,137.99 111.38,140.68 112.50,142.71 C113.62,144.74 114.55,146.16 115.70,147.19 C116.85,148.22 117.85,148.82 119.40,148.89 C120.95,148.97 122.40,148.37 125.00,147.64 C127.60,146.91 131.50,145.35 135.00,144.50 C138.50,143.65 143.17,142.68 146.00,142.53 C148.83,142.38 150.13,142.90 152.00,143.61 C153.87,144.31 155.55,145.47 157.20,146.74 C158.85,148.01 160.32,149.22 161.90,151.22 C163.48,153.22 165.40,156.07 166.70,158.75 C168.00,161.42 168.73,163.81 169.70,167.26 C170.67,170.71 171.45,176.07 172.50,179.45 C173.55,182.82 174.75,185.19 176.00,187.51 C177.25,189.82 178.53,192.05 180.00,193.33 C181.47,194.62 183.13,195.10 184.80,195.22 C186.47,195.33 187.78,195.04 190.00,194.05 C192.22,193.06 196.75,190.09 198.10,189.30" stroke="#5e3b93" stroke-width="1.8"/>
<path d="M53.70,198.50 C54.70,199.07 57.72,201.12 59.70,201.90 C61.68,202.68 63.93,203.15 65.60,203.20 C67.27,203.25 68.45,202.83 69.70,202.20 C70.95,201.57 71.98,200.85 73.10,199.40 C74.22,197.95 75.52,195.60 76.40,193.50 C77.28,191.40 77.70,190.15 78.40,186.80 C79.10,183.45 79.87,177.87 80.60,173.40 C81.33,168.93 82.10,164.17 82.80,160.00 C83.50,155.83 84.17,152.40 84.80,148.40 C85.43,144.40 85.95,140.48 86.60,136.00 C87.25,131.52 87.92,126.08 88.70,121.50 C89.48,116.92 90.42,112.25 91.30,108.50 C92.18,104.75 93.07,101.13 94.00,99.00 C94.93,96.87 95.90,95.78 96.90,95.70 C97.90,95.62 98.97,96.28 100.00,98.50 C101.03,100.72 102.10,105.25 103.10,109.00 C104.10,112.75 105.02,117.10 106.00,121.00 C106.98,124.90 107.92,129.07 109.00,132.40 C110.08,135.73 111.38,138.73 112.50,141.00 C113.62,143.27 114.55,144.85 115.70,146.00 C116.85,147.15 117.85,147.82 119.40,147.90 C120.95,147.98 122.40,147.32 125.00,146.50 C127.60,145.68 131.50,143.95 135.00,143.00 C138.50,142.05 143.17,140.97 146.00,140.80 C148.83,140.63 150.13,141.22 152.00,142.00 C153.87,142.78 155.55,144.08 157.20,145.50 C158.85,146.92 160.32,148.27 161.90,150.50 C163.48,152.73 165.40,155.92 166.70,158.90 C168.00,161.88 168.73,164.55 169.70,168.40 C170.67,172.25 171.45,178.23 172.50,182.00 C173.55,185.77 174.75,188.42 176.00,191.00 C177.25,193.58 178.53,196.07 180.00,197.50 C181.47,198.93 183.13,199.47 184.80,199.60 C186.47,199.73 187.78,199.40 190.00,198.30 C192.22,197.20 196.75,193.88 198.10,193.00" stroke="#2b1a4e" stroke-width="2.1"/>
</g>
<path d="M95,70 V80" stroke="#3c3c3c" stroke-width="2.3"/>
<path d="M89.2,77.6 L95,80.8 L100.8,77.6 L95,90.2 Z" fill="#3c3c3c"/>
<text transform="translate(145.30,101.00) scale(1.1,1)" font-size="11" text-anchor="start" fill="#7db3e3" stroke="#7db3e3" stroke-width="0.14" font-weight="normal" >Measured</text>
<g clip-path="url(#cb)" fill="none" stroke-linejoin="round">
<path d="M283.1,110.05 H441" stroke="#000" stroke-width="1.8" stroke-dasharray="2.9 9.25" stroke-dashoffset="-10.3"/>
<path d="M294.50,137.60 C295.42,139.00 298.25,143.27 300.00,146.00 C301.75,148.73 303.25,151.52 305.00,154.00 C306.75,156.48 308.83,160.15 310.50,160.90 C312.17,161.65 313.42,160.15 315.00,158.50 C316.58,156.85 318.50,153.25 320.00,151.00 C321.50,148.75 322.58,146.50 324.00,145.00 C325.42,143.50 327.17,142.00 328.50,142.00 C329.83,142.00 330.60,142.67 332.00,145.00 C333.40,147.33 335.57,152.17 336.90,156.00 C338.23,159.83 338.82,163.00 340.00,168.00 C341.18,173.00 342.53,180.95 344.00,186.00 C345.47,191.05 347.47,197.13 348.80,198.30 C350.13,199.47 351.13,196.05 352.00,193.00 C352.87,189.95 353.25,185.88 354.00,180.00 C354.75,174.12 355.63,165.37 356.50,157.70 C357.37,150.03 358.37,140.28 359.20,134.00 C360.03,127.72 360.78,124.33 361.50,120.00 C362.22,115.67 362.75,111.67 363.50,108.00 C364.25,104.33 365.08,100.53 366.00,98.00 C366.92,95.47 367.92,93.93 369.00,92.80 C370.08,91.67 371.17,91.20 372.50,91.20 C373.83,91.20 375.42,91.83 377.00,92.80 C378.58,93.77 379.83,95.30 382.00,97.00 C384.17,98.70 386.67,101.25 390.00,103.00 C393.33,104.75 397.83,106.62 402.00,107.50 C406.17,108.38 410.87,108.38 415.00,108.30 C419.13,108.22 424.83,107.22 426.80,107.00" stroke="#7fb4e4" stroke-width="5.0"/>
<path d="M294.50,133.70 C295.42,134.67 298.25,137.62 300.00,139.50 C301.75,141.38 303.38,143.72 305.00,145.00 C306.62,146.28 308.20,147.53 309.70,147.20 C311.20,146.87 312.43,145.90 314.00,143.00 C315.57,140.10 317.43,133.63 319.10,129.80 C320.77,125.97 322.33,122.45 324.00,120.00 C325.67,117.55 327.60,115.60 329.10,115.10 C330.60,114.60 331.70,115.68 333.00,117.00 C334.30,118.32 335.82,119.83 336.90,123.00 C337.98,126.17 338.40,131.50 339.50,136.00 C340.60,140.50 342.33,146.75 343.50,150.00 C344.67,153.25 345.62,154.42 346.50,155.50 C347.38,156.58 348.05,156.92 348.80,156.50 C349.55,156.08 350.30,155.75 351.00,153.00 C351.70,150.25 352.40,145.27 353.00,140.00 C353.60,134.73 354.05,126.08 354.60,121.40 C355.15,116.72 355.68,114.02 356.30,111.90 C356.92,109.78 357.35,109.77 358.30,108.70 C359.25,107.63 360.72,106.62 362.00,105.50 C363.28,104.38 364.83,103.08 366.00,102.00 C367.17,100.92 367.92,99.85 369.00,99.00 C370.08,98.15 371.13,97.05 372.50,96.90 C373.87,96.75 375.12,97.40 377.20,98.10 C379.28,98.80 382.85,100.25 385.00,101.10 C387.15,101.95 387.60,102.55 390.10,103.20 C392.60,103.85 396.38,104.55 400.00,105.00 C403.62,105.45 407.33,105.67 411.80,105.90 C416.27,106.13 424.30,106.32 426.80,106.40" stroke="#c7bb5b" stroke-width="1.7"/>
<path d="M294.50,136.80 C295.42,137.83 298.25,140.97 300.00,143.00 C301.75,145.03 303.38,147.43 305.00,149.00 C306.62,150.57 308.20,152.23 309.70,152.40 C311.20,152.57 312.28,152.40 314.00,150.00 C315.72,147.60 318.33,141.33 320.00,138.00 C321.67,134.67 322.48,132.08 324.00,130.00 C325.52,127.92 327.60,125.92 329.10,125.50 C330.60,125.08 331.70,126.08 333.00,127.50 C334.30,128.92 335.73,130.75 336.90,134.00 C338.07,137.25 338.90,142.17 340.00,147.00 C341.10,151.83 342.42,158.83 343.50,163.00 C344.58,167.17 345.62,170.02 346.50,172.00 C347.38,173.98 348.05,175.23 348.80,174.90 C349.55,174.57 350.30,173.32 351.00,170.00 C351.70,166.68 352.33,161.33 353.00,155.00 C353.67,148.67 354.05,139.38 355.00,132.00 C355.95,124.62 357.53,114.87 358.70,110.70 C359.87,106.53 360.78,108.37 362.00,107.00 C363.22,105.63 364.67,104.00 366.00,102.50 C367.33,101.00 368.72,99.23 370.00,98.00 C371.28,96.77 372.03,95.35 373.70,95.10 C375.37,94.85 377.28,95.68 380.00,96.50 C382.72,97.32 386.33,99.00 390.00,100.00 C393.67,101.00 398.33,101.92 402.00,102.50 C405.67,103.08 407.87,102.92 412.00,103.50 C416.13,104.08 424.33,105.58 426.80,106.00" stroke="#b6d03e" stroke-width="1.7"/>
<path d="M294.50,138.50 C295.42,139.67 298.25,143.17 300.00,145.50 C301.75,147.83 303.42,150.67 305.00,152.50 C306.58,154.33 308.00,156.25 309.50,156.50 C311.00,156.75 312.25,156.17 314.00,154.00 C315.75,151.83 318.33,146.42 320.00,143.50 C321.67,140.58 322.48,138.13 324.00,136.50 C325.52,134.87 327.60,133.62 329.10,133.70 C330.60,133.78 331.68,134.78 333.00,137.00 C334.32,139.22 335.92,143.17 337.00,147.00 C338.08,150.83 338.50,155.33 339.50,160.00 C340.50,164.67 341.92,170.67 343.00,175.00 C344.08,179.33 345.03,183.50 346.00,186.00 C346.97,188.50 347.88,190.00 348.80,190.00 C349.72,190.00 350.72,189.00 351.50,186.00 C352.28,183.00 352.92,177.17 353.50,172.00 C354.08,166.83 354.40,161.50 355.00,155.00 C355.60,148.50 356.23,139.92 357.10,133.00 C357.97,126.08 359.05,117.58 360.20,113.50 C361.35,109.42 362.70,110.17 364.00,108.50 C365.30,106.83 366.67,105.22 368.00,103.50 C369.33,101.78 370.80,99.78 372.00,98.20 C373.20,96.62 373.87,94.70 375.20,94.00 C376.53,93.30 378.37,93.78 380.00,94.00 C381.63,94.22 383.33,94.72 385.00,95.30 C386.67,95.88 387.17,96.63 390.00,97.50 C392.83,98.37 397.83,99.83 402.00,100.50 C406.17,101.17 411.67,101.17 415.00,101.50 C418.33,101.83 420.03,102.00 422.00,102.50 C423.97,103.00 426.00,104.17 426.80,104.50" stroke="#62a23e" stroke-width="1.8"/>
<path d="M294.50,140.20 C295.42,141.33 298.25,144.70 300.00,147.00 C301.75,149.30 303.42,152.10 305.00,154.00 C306.58,155.90 308.00,158.07 309.50,158.40 C311.00,158.73 312.25,158.07 314.00,156.00 C315.75,153.93 318.33,148.75 320.00,146.00 C321.67,143.25 322.48,141.03 324.00,139.50 C325.52,137.97 327.60,136.72 329.10,136.80 C330.60,136.88 331.68,137.80 333.00,140.00 C334.32,142.20 335.92,146.17 337.00,150.00 C338.08,153.83 338.50,158.17 339.50,163.00 C340.50,167.83 341.92,174.50 343.00,179.00 C344.08,183.50 345.03,187.38 346.00,190.00 C346.97,192.62 347.88,194.70 348.80,194.70 C349.72,194.70 350.72,193.28 351.50,190.00 C352.28,186.72 352.92,180.38 353.50,175.00 C354.08,169.62 354.37,164.53 355.00,157.70 C355.63,150.87 356.38,141.45 357.30,134.00 C358.22,126.55 359.38,117.33 360.50,113.00 C361.62,108.67 362.75,109.70 364.00,108.00 C365.25,106.30 366.67,104.58 368.00,102.80 C369.33,101.02 370.73,98.97 372.00,97.30 C373.27,95.63 374.27,93.62 375.60,92.80 C376.93,91.98 378.43,92.23 380.00,92.40 C381.57,92.57 383.33,93.22 385.00,93.80 C386.67,94.38 387.17,95.15 390.00,95.90 C392.83,96.65 397.83,97.70 402.00,98.30 C406.17,98.90 411.67,99.10 415.00,99.50 C418.33,99.90 420.03,100.05 422.00,100.70 C423.97,101.35 426.00,102.95 426.80,103.40" stroke="#1f4a26" stroke-width="2.0"/>
</g>
<path d="M349.6,225.5 V214" stroke="#3c3c3c" stroke-width="2.3"/>
<path d="M343.8,218.2 L349.6,215 L355.4,218.2 L349.6,205.4 Z" fill="#3c3c3c"/>
<g clip-path="url(#cc)" fill="none" stroke-linejoin="round">
<path d="M514,117.80 H671.6" stroke="#000" stroke-width="1.8" stroke-dasharray="2.9 9.85" stroke-dashoffset="-0.55"/>
<path d="M520.80,130.20 C521.13,132.33 522.05,138.87 522.80,143.00 C523.55,147.13 524.43,151.50 525.30,155.00 C526.17,158.50 527.02,161.72 528.00,164.00 C528.98,166.28 530.03,169.03 531.20,168.70 C532.37,168.37 533.70,165.28 535.00,162.00 C536.30,158.72 537.73,152.02 539.00,149.00 C540.27,145.98 541.43,144.23 542.60,143.90 C543.77,143.57 544.93,145.15 546.00,147.00 C547.07,148.85 548.00,151.50 549.00,155.00 C550.00,158.50 550.83,162.83 552.00,168.00 C553.17,173.17 554.83,181.17 556.00,186.00 C557.17,190.83 558.00,194.42 559.00,197.00 C560.00,199.58 561.00,201.67 562.00,201.50 C563.00,201.33 563.83,199.58 565.00,196.00 C566.17,192.42 567.58,185.67 569.00,180.00 C570.42,174.33 572.17,167.00 573.50,162.00 C574.83,157.00 575.75,153.67 577.00,150.00 C578.25,146.33 579.20,142.83 581.00,140.00 C582.80,137.17 585.47,134.17 587.80,133.00 C590.13,131.83 592.72,133.23 595.00,133.00 C597.28,132.77 599.15,131.67 601.50,131.60 C603.85,131.53 606.02,131.87 609.10,132.60 C612.18,133.33 616.52,134.85 620.00,136.00 C623.48,137.15 627.33,139.67 630.00,139.50 C632.67,139.33 634.07,138.23 636.00,135.00 C637.93,131.77 639.97,124.27 641.60,120.10 C643.23,115.93 644.07,113.43 645.80,110.00 C647.53,106.57 649.90,102.47 652.00,99.50 C654.10,96.53 657.33,93.42 658.40,92.20" stroke="#7fb4e4" stroke-width="4.8"/>
<path d="M522.40,108.00 C522.75,110.00 523.82,116.33 524.50,120.00 C525.18,123.67 525.87,127.60 526.50,130.00 C527.13,132.40 527.38,133.90 528.30,134.40 C529.22,134.90 530.72,133.65 532.00,133.00 C533.28,132.35 534.38,131.07 536.00,130.50 C537.62,129.93 540.03,129.35 541.70,129.60 C543.37,129.85 544.62,130.77 546.00,132.00 C547.38,133.23 548.62,135.57 550.00,137.00 C551.38,138.43 552.63,140.60 554.30,140.60 C555.97,140.60 558.05,138.77 560.00,137.00 C561.95,135.23 563.83,132.33 566.00,130.00 C568.17,127.67 570.57,124.93 573.00,123.00 C575.43,121.07 577.77,119.35 580.60,118.40 C583.43,117.45 584.27,117.53 590.00,117.30 C595.73,117.07 608.67,116.63 615.00,117.00 C621.33,117.37 624.13,118.50 628.00,119.50 C631.87,120.50 635.20,123.20 638.20,123.00 C641.20,122.80 643.70,119.97 646.00,118.30 C648.30,116.63 649.93,114.55 652.00,113.00 C654.07,111.45 657.33,109.67 658.40,109.00" stroke="#f6a536" stroke-width="1.6"/>
<path d="M522.40,108.00 C522.75,110.33 523.73,117.67 524.50,122.00 C525.27,126.33 526.20,130.83 527.00,134.00 C527.80,137.17 528.13,140.67 529.30,141.00 C530.47,141.33 532.55,137.50 534.00,136.00 C535.45,134.50 536.72,132.75 538.00,132.00 C539.28,131.25 540.53,131.25 541.70,131.50 C542.87,131.75 543.78,132.08 545.00,133.50 C546.22,134.92 547.25,135.75 549.00,140.00 C550.75,144.25 553.67,156.33 555.50,159.00 C557.33,161.67 558.25,158.33 560.00,156.00 C561.75,153.67 563.83,149.00 566.00,145.00 C568.17,141.00 570.67,135.33 573.00,132.00 C575.33,128.67 577.17,126.92 580.00,125.00 C582.83,123.08 585.83,121.25 590.00,120.50 C594.17,119.75 600.00,120.17 605.00,120.50 C610.00,120.83 614.58,121.18 620.00,122.50 C625.42,123.82 633.83,127.82 637.50,128.40 C641.17,128.98 640.50,127.57 642.00,126.00 C643.50,124.43 644.83,121.42 646.50,119.00 C648.17,116.58 650.02,113.82 652.00,111.50 C653.98,109.18 657.33,106.17 658.40,105.10" stroke="#ee5d2e" stroke-width="1.6"/>
<path d="M522.40,108.00 C522.75,110.83 523.73,119.67 524.50,125.00 C525.27,130.33 526.20,135.90 527.00,140.00 C527.80,144.10 528.13,149.10 529.30,149.60 C530.47,150.10 532.55,145.43 534.00,143.00 C535.45,140.57 536.72,136.60 538.00,135.00 C539.28,133.40 540.53,133.32 541.70,133.40 C542.87,133.48 543.95,134.40 545.00,135.50 C546.05,136.60 546.83,137.25 548.00,140.00 C549.17,142.75 550.55,146.17 552.00,152.00 C553.45,157.83 555.20,171.83 556.70,175.00 C558.20,178.17 559.45,174.17 561.00,171.00 C562.55,167.83 564.00,161.33 566.00,156.00 C568.00,150.67 570.67,143.33 573.00,139.00 C575.33,134.67 577.17,132.33 580.00,130.00 C582.83,127.67 585.78,126.00 590.00,125.00 C594.22,124.00 600.30,123.67 605.30,124.00 C610.30,124.33 614.72,125.37 620.00,127.00 C625.28,128.63 633.50,133.13 637.00,133.80 C640.50,134.47 639.67,132.80 641.00,131.00 C642.33,129.20 643.50,126.17 645.00,123.00 C646.50,119.83 647.77,115.50 650.00,112.00 C652.23,108.50 657.00,103.67 658.40,102.00" stroke="#c42a3c" stroke-width="1.6"/>
<path d="M522.40,108.00 C522.75,111.33 523.73,121.67 524.50,128.00 C525.27,134.33 526.20,141.28 527.00,146.00 C527.80,150.72 528.13,155.63 529.30,156.30 C530.47,156.97 532.55,152.88 534.00,150.00 C535.45,147.12 536.57,141.28 538.00,139.00 C539.43,136.72 541.27,136.30 542.60,136.30 C543.93,136.30 544.93,137.55 546.00,139.00 C547.07,140.45 548.00,142.50 549.00,145.00 C550.00,147.50 550.92,149.17 552.00,154.00 C553.08,158.83 554.32,168.38 555.50,174.00 C556.68,179.62 557.85,186.37 559.10,187.70 C560.35,189.03 561.68,185.45 563.00,182.00 C564.32,178.55 565.33,172.67 567.00,167.00 C568.67,161.33 570.83,153.17 573.00,148.00 C575.17,142.83 577.17,139.00 580.00,136.00 C582.83,133.00 586.10,131.50 590.00,130.00 C593.90,128.50 598.62,127.08 603.40,127.00 C608.18,126.92 614.60,128.25 618.70,129.50 C622.80,130.75 625.20,133.02 628.00,134.50 C630.80,135.98 633.50,138.23 635.50,138.40 C637.50,138.57 638.58,137.57 640.00,135.50 C641.42,133.43 642.67,129.25 644.00,126.00 C645.33,122.75 646.50,119.33 648.00,116.00 C649.50,112.67 651.27,108.75 653.00,106.00 C654.73,103.25 657.50,100.58 658.40,99.50" stroke="#7a2f92" stroke-width="1.6"/>
<path d="M522.40,108.00 C522.75,111.67 523.73,122.83 524.50,130.00 C525.27,137.17 526.05,145.33 527.00,151.00 C527.95,156.67 529.03,162.83 530.20,164.00 C531.37,165.17 532.70,161.33 534.00,158.00 C535.30,154.67 536.57,147.15 538.00,144.00 C539.43,140.85 541.27,139.43 542.60,139.10 C543.93,138.77 544.93,140.52 546.00,142.00 C547.07,143.48 548.00,145.37 549.00,148.00 C550.00,150.63 550.72,150.98 552.00,157.80 C553.28,164.62 555.03,181.73 556.70,188.90 C558.37,196.07 560.40,200.80 562.00,200.80 C563.60,200.80 564.38,196.07 566.30,188.90 C568.22,181.73 571.63,165.12 573.50,157.80 C575.37,150.48 576.12,148.58 577.50,145.00 C578.88,141.42 580.08,138.55 581.80,136.30 C583.52,134.05 585.17,132.77 587.80,131.50 C590.43,130.23 594.05,129.32 597.60,128.70 C601.15,128.08 605.58,127.48 609.10,127.80 C612.62,128.12 615.52,129.17 618.70,130.60 C621.88,132.03 625.68,134.62 628.20,136.40 C630.72,138.18 631.88,141.15 633.80,141.30 C635.72,141.45 638.08,139.87 639.70,137.30 C641.32,134.73 642.23,129.40 643.50,125.90 C644.77,122.40 645.70,119.82 647.30,116.30 C648.90,112.78 651.25,108.08 653.10,104.80 C654.95,101.52 657.52,97.97 658.40,96.60" stroke="#3b1d5c" stroke-width="1.8"/>
</g>
<path d="M563.4,226 V214.5" stroke="#3c3c3c" stroke-width="2.3"/>
<path d="M557.9,218.7 L563.4,215.6 L568.9,218.7 L563.4,206 Z" fill="#3c3c3c"/>
<g clip-path="url(#cd)" fill="none" stroke-linejoin="round">
<path d="M70.60,274.30 C71.40,274.83 73.12,276.00 75.40,277.50 C77.68,279.00 81.32,281.50 84.30,283.30 C87.28,285.10 90.32,286.58 93.30,288.30 C96.28,290.02 99.23,291.92 102.20,293.60 C105.17,295.28 108.02,296.80 111.10,298.40 C114.18,300.00 117.62,301.80 120.70,303.20 C123.78,304.60 126.10,305.43 129.60,306.80 C133.10,308.17 136.90,309.78 141.70,311.40 C146.50,313.02 152.00,314.77 158.40,316.50 C164.80,318.23 172.17,320.02 180.10,321.80 C188.03,323.58 201.68,326.30 206.00,327.20" stroke="#3a3a3a" stroke-width="1.8" stroke-dasharray="10.2 10.2" stroke-dashoffset="2"/>
<path d="M45.00,384.60 L60.90,384.60 L62.00,360.00 L63.30,335.00 L64.60,315.00 L65.70,300.00 L67.20,288.00 L69.20,280.00 L71.70,275.10 L74.80,276.60 L79.50,282.80 L84.10,284.40 L87.20,285.20 L90.30,280.50 L93.40,281.30 L98.10,285.20 L101.20,286.70 L105.80,290.60 L108.90,292.10 L113.60,291.40 L116.70,299.90 L121.30,299.10 L124.40,299.90 L127.50,305.30 L133.40,310.10 L137.50,302.60 L140.90,307.60 L144.20,306.70 L147.50,310.90 L154.20,310.10 L157.60,317.60 L164.20,307.60 L169.30,315.10 L173.40,316.80 L178.40,320.10 L182.60,322.60 L187.60,315.10 L195.10,330.10 L201.80,323.40 L206.00,332.00" stroke="#7fb4e4" stroke-width="5.0"/>
</g>
<text transform="translate(202.60,286.50) scale(1.1,1)" font-size="11" text-anchor="end" fill="#7fb4e4" stroke="#7fb4e4" stroke-width="0.14" font-weight="normal" >Measured</text>
<text transform="translate(202.60,300.60) scale(1.1,1)" font-size="11" text-anchor="end" fill="#333" stroke="#333" stroke-width="0.14" font-weight="normal" >Simulated</text>
<g fill="none" stroke-linejoin="round">
<path d="M285.20,381.60 L287.50,377.80 L293.70,376.00 L294.50,368.00 L296.60,341.00 L298.30,316.00 L300.50,303.00 L302.50,291.00 L304.50,280.00 L306.50,271.00 L308.00,268.30 L309.50,273.00 L311.60,294.60 L315.70,285.40 L318.20,270.40 L321.60,287.90 L324.90,278.70 L328.30,270.40 L334.10,285.40 L338.30,287.90 L341.60,280.40 L345.00,285.40 L348.30,282.00 L351.60,297.10 L357.80,285.40 L361.50,303.00 L366.50,303.80 L368.40,286.50 L371.70,312.10 L378.40,294.60 L381.70,312.10 L385.00,305.40 L389.20,318.80 L395.10,321.30 L399.20,318.80 L402.60,312.10 L405.10,326.30 L407.60,311.30 L411.80,303.80 L416.80,309.60 L422.60,317.90 L428.50,312.10 L433.50,317.10 L437.70,322.10 L439.50,323.30" stroke="#7fb4e4" stroke-width="5.0"/>
<path d="M303.20,277.90 C305.17,277.78 311.37,277.43 315.00,277.20 C318.63,276.97 322.00,276.37 325.00,276.50 C328.00,276.63 329.40,277.00 333.00,278.00 C336.60,279.00 342.65,281.08 346.60,282.50 C350.55,283.92 353.35,285.18 356.70,286.50 C360.05,287.82 361.55,288.03 366.70,290.40 C371.85,292.77 380.78,297.37 387.60,300.70 C394.42,304.03 401.07,307.25 407.60,310.40 C414.13,313.55 421.40,317.08 426.80,319.60 C432.20,322.12 437.80,324.52 440.00,325.50" stroke="#3a3a3a" stroke-width="1.8" stroke-dasharray="10.5 11.7"/>
</g>
<g clip-path="url(#cf)" fill="none" stroke-linejoin="round">
<path d="M527.50,388.00 L532.50,345.00 L535.30,326.00 L538.80,308.90 L541.70,303.20 L544.50,308.00 L546.50,296.50 L547.40,286.00 L549.30,284.10 L551.20,279.30 L553.10,278.40 L555.00,293.60 L557.90,275.50 L559.80,272.60 L564.60,275.50 L575.10,284.10 L581.80,281.20 L589.40,292.70 L595.10,292.40 L671.00,315.20" stroke="#2f7a4b" stroke-width="5.0"/>
<path d="M522.80,388.00 L527.10,330.00 L529.30,312.70 L532.10,287.90 L535.00,273.60 L537.90,276.50 L542.60,287.90 L547.40,293.60 L554.10,296.50 L557.00,299.40 L559.80,306.50 L565.00,309.60 L579.20,324.40 L597.50,332.70 L613.70,338.70 L635.20,345.10 L671.00,353.80" stroke="#7fb4e4" stroke-width="5.0"/>
<path d="M535.00,275.50 C537.07,277.57 544.07,284.72 547.40,287.90 C550.73,291.08 552.13,291.90 555.00,294.60 C557.87,297.30 561.88,301.40 564.60,304.10 C567.32,306.80 568.48,308.43 571.30,310.80 C574.12,313.17 578.32,315.92 581.50,318.30 C584.68,320.68 586.78,322.18 590.40,325.10 C594.02,328.02 597.60,332.47 603.20,335.80 C608.80,339.13 616.15,341.75 624.00,345.10 C631.85,348.45 642.67,353.33 650.30,355.90 C657.93,358.47 666.55,359.73 669.80,360.50" stroke="#3a3a3a" stroke-width="1.8" stroke-dasharray="10.5 11.6" stroke-dashoffset="2.5"/>
</g>
<text transform="translate(572.2,300.6) rotate(18.7) scale(1.1,1)" font-size="11.15" fill="#2f7a4b" stroke="#2f7a4b" stroke-width="0.22">UP/LP cross peak</text>
<text transform="translate(588.2,347.4) rotate(16.2) scale(1.1,1)" font-size="11" fill="#7fb4e4" stroke="#7fb4e4" stroke-width="0.22">LP Diagonal</text>
</svg></body></html>
